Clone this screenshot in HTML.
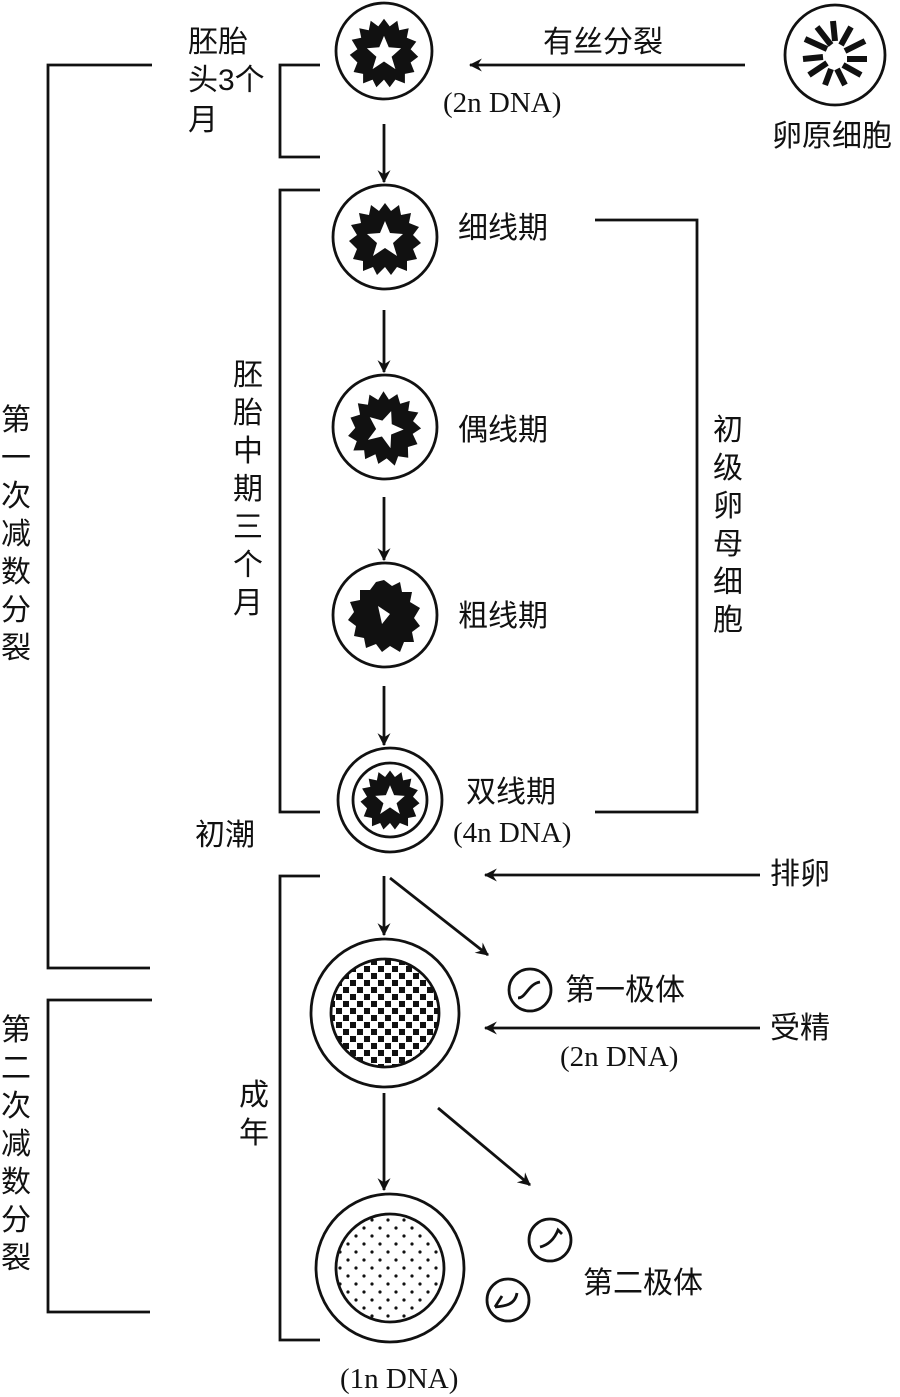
<!DOCTYPE html>
<html><head><meta charset="utf-8"><style>
html,body{margin:0;padding:0;background:#fff;}
svg{display:block;}
text{font-family:"Liberation Serif","Noto Sans CJK SC",serif;fill:#111;}
.c{font-family:"Liberation Sans","Noto Sans CJK SC",sans-serif;font-size:30px;}
.s{font-family:"Liberation Serif","Noto Serif CJK SC",serif;font-size:29px;}
</style></head><body>
<svg width="900" height="1397" viewBox="0 0 900 1397" xmlns="http://www.w3.org/2000/svg">
<defs>
<marker id="ah" viewBox="0 0 12 12" refX="11" refY="6" markerWidth="13" markerHeight="13" markerUnits="userSpaceOnUse" orient="auto">
<path d="M0,0 L12,6 L0,12 L4,6 Z" fill="#111"/></marker>
<pattern id="chk" width="14" height="14" patternUnits="userSpaceOnUse">
<rect x="0" y="0" width="6" height="6" fill="#111"/><rect x="7" y="7" width="6" height="6" fill="#111"/></pattern>
<pattern id="dot" width="16" height="16" patternUnits="userSpaceOnUse">
<circle cx="4" cy="4" r="1.6" fill="#111"/><circle cx="12" cy="12" r="1.6" fill="#111"/></pattern>
<g id="blob">
<polygon fill="#111" points="0,-36 6,-28 14,-34 16,-24 26,-26 24,-16 34,-12 28,-4 36,4 28,10 32,20 22,22 22,32 12,28 6,36 0,28 -8,36 -12,28 -22,32 -22,22 -32,20 -28,10 -36,2 -28,-4 -34,-14 -24,-16 -26,-26 -16,-24 -14,-34 -6,-28"/>
<path d="M0,-18 L5,-6 L18,-5 L8,4 L12,17 L0,9 L-12,17 L-8,4 L-18,-5 L-5,-6Z" fill="#fff"/>
</g>
</defs>
<g fill="none" stroke="#111" stroke-width="2.8">
<circle cx="384" cy="51" r="48"/>
<circle cx="835" cy="55" r="50"/>
<circle cx="385" cy="237" r="52"/>
<circle cx="385" cy="427" r="52"/>
<circle cx="385" cy="615" r="52"/>
<circle cx="390" cy="800" r="52"/>
<circle cx="390" cy="800" r="37"/>
<circle cx="385" cy="1013" r="74"/>
<circle cx="390" cy="1268" r="74"/>
<circle cx="530" cy="990" r="21"/>
<circle cx="550" cy="1240" r="21"/>
<circle cx="508" cy="1300" r="21"/>
<line x1="384" y1="124" x2="384" y2="182" marker-end="url(#ah)"/>
<line x1="384" y1="310" x2="384" y2="372" marker-end="url(#ah)"/>
<line x1="384" y1="497" x2="384" y2="560" marker-end="url(#ah)"/>
<line x1="384" y1="686" x2="384" y2="745" marker-end="url(#ah)"/>
<line x1="384" y1="876" x2="384" y2="935" marker-end="url(#ah)"/>
<line x1="384" y1="1093" x2="384" y2="1190" marker-end="url(#ah)"/>
<line x1="390" y1="878" x2="488" y2="955" marker-end="url(#ah)"/>
<line x1="438" y1="1108" x2="530" y2="1185" marker-end="url(#ah)"/>
<line x1="745" y1="65" x2="470" y2="65" marker-end="url(#ah)"/>
<line x1="760" y1="875" x2="485" y2="875" marker-end="url(#ah)"/>
<line x1="760" y1="1028" x2="485" y2="1028" marker-end="url(#ah)"/>
<polyline points="152,65 48,65 48,968 150,968"/>
<polyline points="152,1000 48,1000 48,1312 150,1312"/>
<polyline points="320,65 280,65 280,157 320,157"/>
<polyline points="320,190 280,190 280,812 320,812"/>
<polyline points="320,876 280,876 280,1340 320,1340"/>
<polyline points="595,220 697,220 697,812 595,812"/>
<path d="M518,998 C526,998 528,984 540,982"/>
<path d="M540,1247 C548,1245 554,1240 558,1230 L562,1234"/>
<path d="M495,1307 L502,1296 M495,1307 C505,1306 515,1305 517,1293"/>
</g>
<circle cx="385" cy="1013" r="54" fill="url(#chk)" stroke="#111" stroke-width="2.8"/>
<circle cx="390" cy="1268" r="54" fill="url(#dot)" stroke="#111" stroke-width="2.8"/>
<use href="#blob" transform="translate(384,53) scale(0.95)"/>
<use href="#blob" transform="translate(385,239)"/>
<use href="#blob" transform="translate(385,428) rotate(20)"/>
<g transform="translate(384,616)"><polygon fill="#111" points="0,-36 8,-30 16,-34 18,-24 28,-24 26,-14 36,-8 30,2 36,10 28,16 30,26 20,26 16,36 6,30 -2,36 -8,28 -18,32 -20,22 -30,20 -28,10 -36,4 -30,-4 -34,-14 -24,-16 -24,-26 -14,-26 -8,-34"/><path d="M-6,-10 L6,-2 L-2,8 Z" fill="#fff"/></g>
<use href="#blob" transform="translate(390,800) scale(0.82)"/>
<g stroke="#111" stroke-width="6" stroke-linecap="butt" transform="translate(835,55)">
<line x1="-30" y1="-16" x2="-8" y2="-6"/><line x1="-18" y1="-28" x2="-4" y2="-10"/>
<line x1="-2" y1="-34" x2="0" y2="-14"/><line x1="16" y1="-28" x2="6" y2="-10"/>
<line x1="30" y1="-14" x2="10" y2="-4"/><line x1="32" y1="4" x2="12" y2="4"/>
<line x1="26" y1="20" x2="8" y2="10"/><line x1="10" y1="30" x2="2" y2="14"/>
<line x1="-10" y1="30" x2="-4" y2="14"/><line x1="-26" y1="20" x2="-8" y2="8"/>
<line x1="-32" y1="4" x2="-12" y2="2"/>
</g>
<text class="c" x="188" y="52">胚胎</text>
<text class="c" x="188" y="90">头3个</text>
<text class="c" x="188" y="130">月</text>
<text class="s" x="443" y="112">(2n DNA)</text>
<text class="c" x="543" y="52">有丝分裂</text>
<text class="c" x="772" y="146">卵原细胞</text>
<text class="c" x="458" y="238">细线期</text>
<text class="c" x="458" y="440">偶线期</text>
<text class="c" x="458" y="626">粗线期</text>
<text class="c" x="466" y="802">双线期</text>
<text class="s" x="453" y="842">(4n DNA)</text>
<text class="c" x="195" y="845">初潮</text>
<text class="c" x="770" y="884">排卵</text>
<text class="c" x="565" y="1000">第一极体</text>
<text class="c" x="770" y="1038">受精</text>
<text class="s" x="560" y="1066">(2n DNA)</text>
<text class="c" x="583" y="1293">第二极体</text>
<text class="s" x="340" y="1388">(1n DNA)</text>
<text class="c" x="1" y="430">第</text><text class="c" x="1" y="468">一</text><text class="c" x="1" y="506">次</text><text class="c" x="1" y="544">减</text><text class="c" x="1" y="582">数</text><text class="c" x="1" y="620">分</text><text class="c" x="1" y="658">裂</text>
<text class="c" x="1" y="1040">第</text><text class="c" x="1" y="1078">二</text><text class="c" x="1" y="1116">次</text><text class="c" x="1" y="1154">减</text><text class="c" x="1" y="1192">数</text><text class="c" x="1" y="1230">分</text><text class="c" x="1" y="1268">裂</text>
<text class="c" x="233" y="385">胚</text><text class="c" x="233" y="423">胎</text><text class="c" x="233" y="461">中</text><text class="c" x="233" y="499">期</text><text class="c" x="233" y="537">三</text><text class="c" x="233" y="575">个</text><text class="c" x="233" y="613">月</text>
<text class="c" x="239" y="1105">成</text><text class="c" x="239" y="1143">年</text>
<text class="c" x="713" y="440">初</text><text class="c" x="713" y="478">级</text><text class="c" x="713" y="516">卵</text><text class="c" x="713" y="554">母</text><text class="c" x="713" y="592">细</text><text class="c" x="713" y="630">胞</text>
</svg>
</body></html>
